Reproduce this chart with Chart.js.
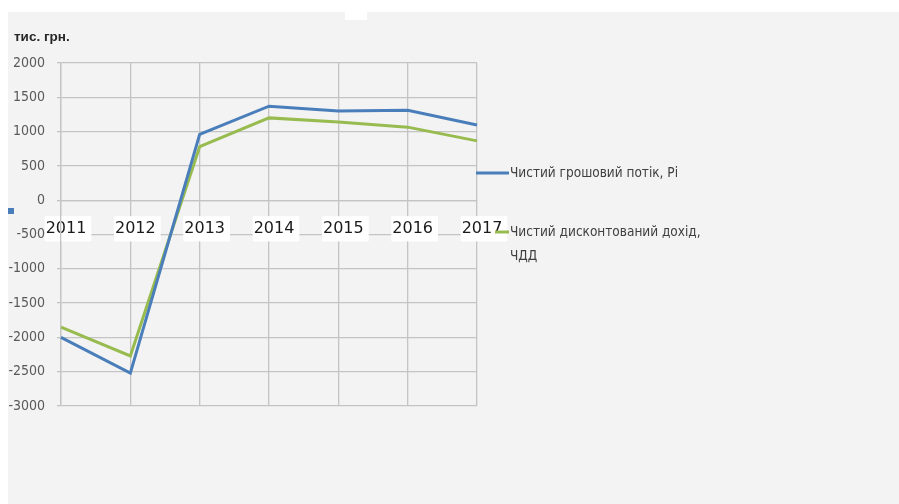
<!DOCTYPE html>
<html>
<head>
<meta charset="utf-8">
<script src="https://cdn.jsdelivr.net/npm/chart.js@4/dist/chart.umd.min.js"></script>
<style>
    html, body { margin: 0; padding: 0; background: #ffffff; }
    #wrap { position: relative; width: 899px; height: 504px; }
</style>
</head>
<body>
<div id="wrap"><canvas id="chart" width="899" height="504"></canvas></div>
<script>
// data
var years = ['2011', '2012', '2013', '2014', '2015', '2016', '2017'];
var cashFlow = [-2000, -2520, 960, 1370, 1300, 1310, 1095];
var discounted = [-1850, -2270, 780, 1200, 1140, 1065, 865];
var seriesNames = [['Чистий грошовий потік, Рі'], ['Чистий дисконтований дохід,', 'ЧДД']];
var yTicks = [-3000, -2500, -2000, -1500, -1000, -500, 0, 500, 1000, 1500, 2000];
var unitLabel = 'тис. грн.';

var blue = '#4a7ebb';
var green = '#98bb4f';
var gridColor = '#c4c4c4';
var textGray = '#595959';
var narrow = '"DejaVu Sans Condensed", "Liberation Sans", sans-serif';

// page background: white strips on top and left, light grey elsewhere
var backgroundPlugin = {
    id: 'pageBg',
    beforeDraw: function (chart) {
        var ctx = chart.ctx;
        ctx.save();
        ctx.fillStyle = '#ffffff';
        ctx.fillRect(0, 0, chart.width, chart.height);
        ctx.fillStyle = '#f3f3f3';
        ctx.fillRect(8, 12, chart.width - 8, chart.height - 12);
        ctx.fillStyle = '#ffffff';
        ctx.fillRect(345, 11, 22, 9);
        // stray legend marker on the left edge
        ctx.fillStyle = blue;
        ctx.fillRect(8, 208, 6, 6);
        ctx.restore();
    }
};

// unit caption + legend on the right
var sideLegendPlugin = {
    id: 'sideLegend',
    afterDraw: function (chart) {
        var ctx = chart.ctx;
        ctx.save();

        ctx.fillStyle = '#262626';
        ctx.font = 'bold 13.5px "Liberation Sans", sans-serif';
        ctx.textBaseline = 'middle';
        ctx.fillText(unitLabel, 14, 37);

        var items = [
            { x0: 476, y: 173 },
            { x0: 495, y: 232 }
        ];
        ctx.font = '13.5px ' + narrow;
        ctx.textBaseline = 'middle';
        chart.data.datasets.forEach(function (ds, i) {
            var it = items[i];
            ctx.strokeStyle = ds.borderColor;
            ctx.lineWidth = 3;
            ctx.beginPath();
            ctx.moveTo(it.x0, it.y);
            ctx.lineTo(509, it.y);
            ctx.stroke();
            ctx.fillStyle = '#404040';
            seriesNames[i].forEach(function (line, k) {
                ctx.fillText(line, 510, it.y + k * 24);
            });
        });

        ctx.restore();
    }
};

var ctx = document.getElementById('chart');

var myChart = new Chart(ctx, {
    type: 'line',
    data: {
        labels: years,
        datasets: [{
            label: seriesNames[0].join(' '),
            data: cashFlow,
            borderColor: blue,
            backgroundColor: blue,
            borderWidth: 3,
            pointRadius: 0,
            tension: 0
        }, {
            label: seriesNames[1].join(' '),
            data: discounted,
            borderColor: green,
            backgroundColor: green,
            borderWidth: 3,
            pointRadius: 0,
            tension: 0
        }]
    },
    options: {
        responsive: false,
        animation: false,
        layout: {
            padding: { left: 0, right: 422, top: 63, bottom: 98 }
        },
        plugins: {
            legend: { display: false },
            tooltip: { enabled: false }
        },
        scales: {
            x: {
                position: { y: 0 },
                offset: false,
                grid: {
                    color: gridColor,
                    lineWidth: 1.3,
                    drawTicks: false
                },
                border: { color: gridColor, width: 1.3 },
                ticks: {
                    padding: 19,
                    labelOffset: 5,
                    maxRotation: 0,
                    autoSkip: false,
                    color: '#1a1a1a',
                    font: { family: '"DejaVu Sans", sans-serif', size: 16 },
                    showLabelBackdrop: true,
                    backdropColor: '#ffffff',
                    backdropPadding: { top: 3, bottom: 3, left: 1, right: 5 }
                }
            },
            y: {
                min: -3000,
                max: 2000,
                afterFit: function (scale) {
                    scale.width = 61;
                },
                afterBuildTicks: function (scale) {
                    scale.ticks = yTicks.map(function (v) { return { value: v }; });
                },
                grid: {
                    color: gridColor,
                    lineWidth: 1.3,
                    tickLength: 4
                },
                border: { color: gridColor, width: 1.3 },
                ticks: {
                    padding: 12,
                    color: textGray,
                    font: { family: narrow, size: 14 },
                    callback: function (value) {
                        return String(value);
                    }
                }
            }
        }
    },
    plugins: [backgroundPlugin, sideLegendPlugin]
});
</script>
</body>
</html>
